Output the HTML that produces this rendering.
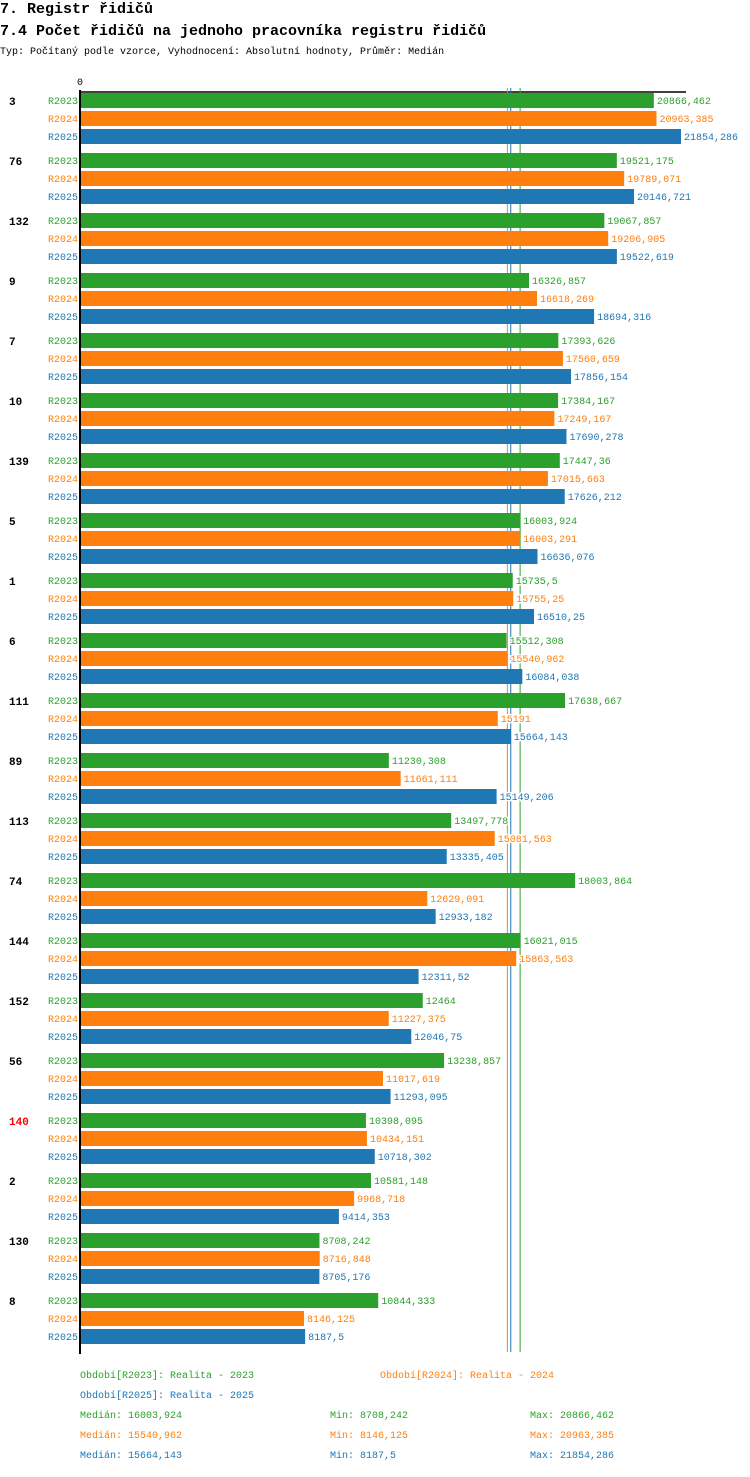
<!DOCTYPE html>
<html><head><meta charset="utf-8"><style>
body{margin:0;background:#fff;width:750px;height:1472px;overflow:hidden}
svg text{font-family:"Liberation Mono",monospace}
</style></head><body>
<svg id="c" width="750" height="1472" xmlns="http://www.w3.org/2000/svg">
<text x="0" y="13" font-size="15" font-weight="bold">7. Registr řidičů</text>
<text x="0" y="35" font-size="15" font-weight="bold">7.4 Počet řidičů na jednoho pracovníka registru řidičů</text>
<text x="0" y="54" font-size="10">Typ: Počítaný podle vzorce, Vyhodnocení: Absolutní hodnoty, Průměr: Medián</text>
<text x="77" y="85" font-size="10">0</text>
<g id="g"></g>
</svg>
<script>
const categories=["3","76","132","9","7","10","139","5","1","6","111","89","113","74","144","152","56","140","2","130","8"];
const r2023=[20866.462,19521.175,19067.857,16326.857,17393.626,17384.167,17447.36,16003.924,15735.5,15512.308,17638.667,11230.308,13497.778,18003.864,16021.015,12464,13238.857,10398.095,10581.148,8708.242,10844.333];
const r2024=[20963.385,19789.071,19206.905,16618.269,17560.659,17249.167,17015.663,16003.291,15755.25,15540.962,15191,11661.111,15081.563,12629.091,15863.563,11227.375,11017.619,10434.151,9968.718,8716.848,8146.125];
const r2025=[21854.286,20146.721,19522.619,18694.316,17856.154,17690.278,17626.212,16636.076,16510.25,16084.038,15664.143,15149.206,13335.405,12933.182,12311.52,12046.75,11293.095,10718.302,9414.353,8705.176,8187.5];
const seriesNames=["R2023","R2024","R2025"];
const medians=[16003.924,15540.962,15664.143];
const mins=[8708.242,8146.125,8187.5];
const maxs=[20866.462,20963.385,21854.286];
const colors=["#2ca02c","#ff7f0e","#1f77b4"];
const NS="http://www.w3.org/2000/svg",g=document.getElementById("g");
const x=v=>80+v*601/21854.286;
function mk(t,a,txt){const e=document.createElementNS(NS,t);for(const k in a)e.setAttribute(k,a[k]);if(txt!==undefined)e.textContent=txt;g.appendChild(e);return e;}
const fmt=v=>String(v).replace('.',',');
const series=[r2023,r2024,r2025];
let e=mk("line",{x1:80,y1:92,x2:686,y2:92,stroke:"#000","stroke-width":1.5});


medians.forEach((m,j)=>{
 e=mk("line",{x1:x(m),y1:88,x2:x(m),y2:1352,stroke:colors[j],"stroke-width":1});
 
 
});
categories.forEach((c,i)=>{
 const y0=93+60*i;
 e=mk("text",{x:9,y:y0+12,"font-size":11,"font-weight":"bold",fill:c==="140"?"#f00":"#000"},c);
 
 
 series.forEach((s,j)=>{
  const y=y0+18*j;
  e=mk("text",{x:78,y:y+11,"font-size":10,fill:colors[j],"text-anchor":"end"},seriesNames[j]);
  
  
  e=mk("rect",{x:80,y:y,width:x(s[i])-80,height:15,fill:colors[j]});
  
  
  e=mk("text",{x:x(s[i])+3,y:y+11,"font-size":10,fill:colors[j],stroke:"#fff","stroke-width":3,"paint-order":"stroke"},fmt(s[i]));
  
  
 });
});
e=mk("line",{x1:80,y1:90,x2:80,y2:1354,stroke:"#000","stroke-width":2});


const leg=[[80,1378,0],[380,1378,1],[80,1398,2]];
leg.forEach(([lx,ly,j])=>{
 e=mk("text",{x:lx,y:ly,"font-size":10,fill:colors[j]},"Období["+seriesNames[j]+"]: Realita - "+seriesNames[j].slice(1));
 
 
});
[0,1,2].forEach(j=>{
 const y=1418+20*j;
 e=mk("text",{x:80,y:y,"font-size":10,fill:colors[j]},"Medián: "+fmt(medians[j]));
 
 
 e=mk("text",{x:330,y:y,"font-size":10,fill:colors[j]},"Min: "+fmt(mins[j]));
 
 
 e=mk("text",{x:530,y:y,"font-size":10,fill:colors[j]},"Max: "+fmt(maxs[j]));
 
 
});
</script>
</body></html>
